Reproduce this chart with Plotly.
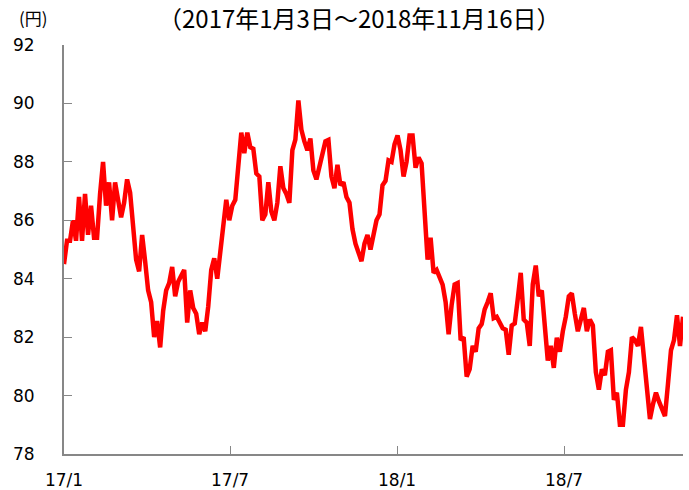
import pandas as pd
import plotly.graph_objects as go

start_date = "2017-01-03"
end_date = "2018-11-16"

prices = [
    84.5, 85.3, 85.3, 86.0, 85.3, 86.8, 85.3, 86.9, 85.5, 86.5,
    85.4, 85.4, 86.9, 88.0, 86.5, 87.3, 86.0, 87.3, 86.7, 86.1,
    86.6, 87.4, 86.95, 85.9, 84.65, 84.25, 85.5, 84.6, 83.6, 83.2,
    82.0, 82.55, 81.65, 82.9, 83.6, 83.85, 84.4, 83.4, 83.9, 84.1,
    84.3, 82.5, 83.6, 83.0, 82.8, 82.1, 82.5, 82.2, 83.05, 84.3,
    84.7, 84.0, 84.9, 86.1, 86.7, 86.0, 86.5, 86.7, 88.0, 89.0,
    88.3, 89.0, 88.5, 88.45, 87.6, 87.5, 86.0, 86.2, 87.3, 86.3,
    86.0, 86.6, 87.85, 87.1, 86.9, 86.6, 88.4, 88.76, 90.1, 89.1,
    88.7, 88.4, 88.8, 87.7, 87.4, 87.8, 88.3, 88.7, 88.75, 87.5,
    87.1, 87.9, 87.2, 87.3, 86.8, 86.6, 85.7, 85.2, 84.9, 84.6,
    85.2, 85.5, 85.0, 85.45, 86.0, 86.2, 87.2, 87.35, 88.05, 88.0,
    88.6, 88.9, 88.4, 87.5, 88.0, 88.9, 88.9, 87.8, 88.15, 87.95,
    86.0, 84.65, 85.4, 84.2, 84.3, 84.0, 83.8, 83.2, 82.1, 83.1,
    83.8, 83.85, 81.9, 82.0, 80.65, 80.9, 81.7, 81.5, 82.3, 82.45,
    82.95, 83.2, 83.5, 82.65, 82.7, 82.5, 82.3, 82.25, 81.4, 82.4,
    82.47, 83.3, 84.2, 82.6, 82.5, 81.7, 83.8, 84.45, 83.4, 83.6,
    82.3, 81.2, 81.7, 80.95, 81.98, 81.5, 82.2, 82.7, 83.4, 83.5,
    82.8, 82.2, 82.6, 83.0, 82.2, 82.6, 82.4, 80.8, 80.2, 80.9,
    80.7, 81.5, 81.55, 79.85, 80.1, 79.0, 79.0, 80.2, 80.8, 82.0,
    81.9, 81.7, 82.35, 81.2, 80.2, 79.2, 79.7, 80.1, 79.8, 79.55,
    79.3, 80.4, 81.55, 81.9, 82.75, 81.7, 82.7,
]

tick_dates = ["2017-01-03", "2017-07-05", "2018-01-05", "2018-07-08"]
tick_labels = ["17/1", "17/7", "18/1", "18/7"]
y_ticks = [78, 80, 82, 84, 86, 88, 90, 92]

title_text = "（2017年1月3日～2018年11月16日）"
unit_text = "(円)"

dates = pd.date_range(start_date, end_date, periods=len(prices))

fig = go.Figure()
fig.add_trace(go.Scatter(
    x=dates, y=prices, mode="lines",
    line=dict(color="#ff0000", width=4.5),
    hoverinfo="skip", showlegend=False,
))

axis_color = "#878787"
fig.update_layout(
    width=689, height=490,
    margin=dict(l=64, r=6, t=45, b=36),
    paper_bgcolor="white", plot_bgcolor="white",
    font=dict(family="DejaVu Sans", size=17, color="#000000"),
    xaxis=dict(
        type="date",
        range=[start_date, end_date],
        tickvals=tick_dates, ticktext=tick_labels,
        ticks="inside", ticklen=8, tickwidth=1, tickcolor=axis_color,
        showline=True, linecolor=axis_color, linewidth=2,
        showgrid=False, zeroline=False, automargin=False,
        ticklabelstandoff=10,
        tickfont=dict(family="DejaVu Sans", size=17, color="#000000"),
    ),
    yaxis=dict(
        range=[78, 92],
        tickvals=y_ticks,
        ticks="inside", ticklen=8, tickwidth=1, tickcolor=axis_color,
        showline=True, linecolor=axis_color, linewidth=2,
        showgrid=False, zeroline=False, automargin=False,
        ticklabelstandoff=24,
        tickfont=dict(family="DejaVu Sans", size=17, color="#000000"),
    ),
    annotations=[
        dict(text=title_text, xref="paper", yref="paper",
             x=(359 - 64) / 619, y=1 + (45 - 18) / 409,
             xanchor="center", yanchor="middle", showarrow=False,
             font=dict(family="Noto Sans CJK JP", size=24, color="#000000")),
        dict(text=unit_text, xref="paper", yref="paper",
             x=(33 - 64) / 619, y=1 + (45 - 18) / 409,
             xanchor="center", yanchor="middle", showarrow=False,
             font=dict(family="Noto Sans CJK JP", size=17, color="#000000")),
    ],
)

# remove the browser's default 8px body margin so the figure fills the window
fig.write_html(
    "out.html",
    config={"displayModeBar": False, "staticPlot": True},
    post_script="document.body.style.margin='0';",
)
